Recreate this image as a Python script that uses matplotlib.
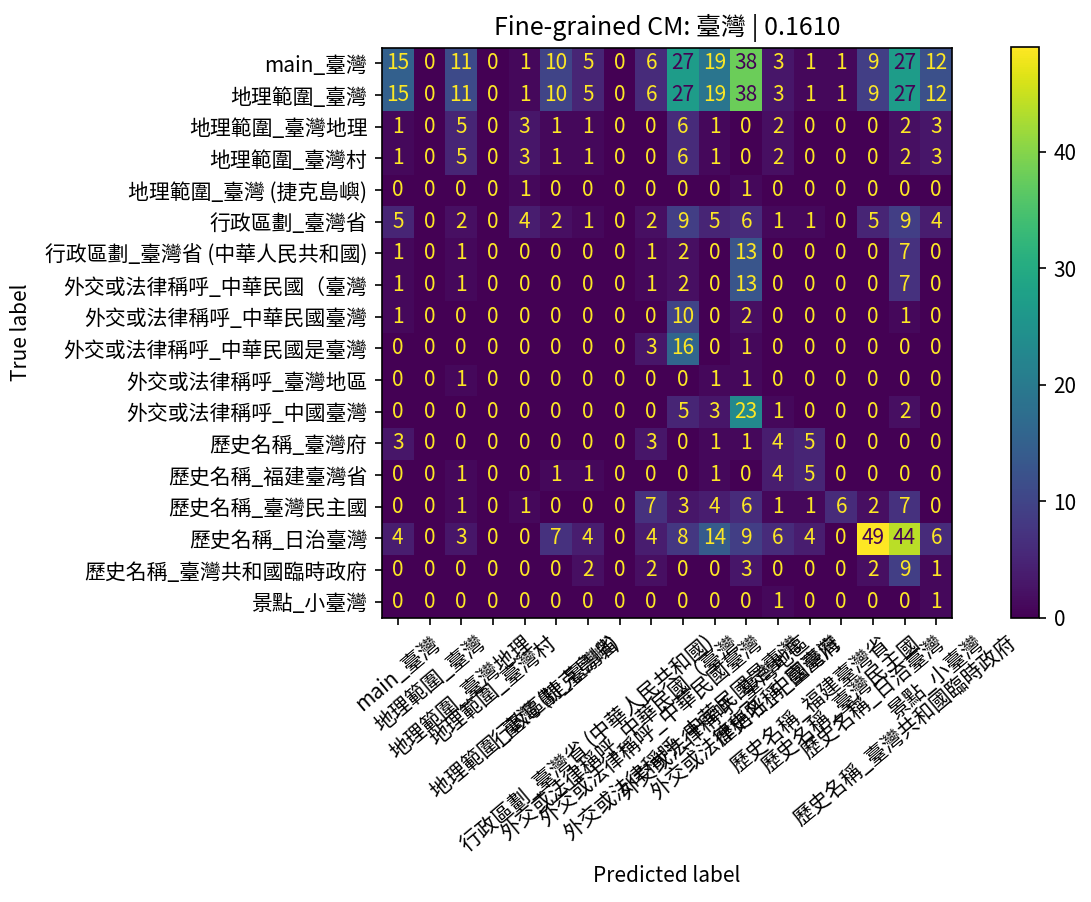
import matplotlib
matplotlib.use("Agg")
import matplotlib.pyplot as plt
import numpy as np

plt.rcParams['font.family'] = ['Noto Sans CJK TC', 'DejaVu Sans']
plt.rcParams['font.size'] = 10

labels = [
    "main_臺灣",
    "地理範圍_臺灣",
    "地理範圍_臺灣地理",
    "地理範圍_臺灣村",
    "地理範圍_臺灣 (捷克島嶼)",
    "行政區劃_臺灣省",
    "行政區劃_臺灣省 (中華人民共和國)",
    "外交或法律稱呼_中華民國（臺灣",
    "外交或法律稱呼_中華民國臺灣",
    "外交或法律稱呼_中華民國是臺灣",
    "外交或法律稱呼_臺灣地區",
    "外交或法律稱呼_中國臺灣",
    "歷史名稱_臺灣府",
    "歷史名稱_福建臺灣省",
    "歷史名稱_臺灣民主國",
    "歷史名稱_日治臺灣",
    "歷史名稱_臺灣共和國臨時政府",
    "景點_小臺灣",
]

row_main = [15, 0, 11, 0, 1, 10, 5, 0, 6, 27, 19, 38, 3, 1, 1, 9, 27, 12]
row_geo_tw = [15, 0, 11, 0, 1, 10, 5, 0, 6, 27, 19, 38, 3, 1, 1, 9, 27, 12]
row_geo_geo = [1, 0, 5, 0, 3, 1, 1, 0, 0, 6, 1, 0, 2, 0, 0, 0, 2, 3]
row_geo_village = [1, 0, 5, 0, 3, 1, 1, 0, 0, 6, 1, 0, 2, 0, 0, 0, 2, 3]
row_geo_czech = [0, 0, 0, 0, 1, 0, 0, 0, 0, 0, 0, 1, 0, 0, 0, 0, 0, 0]
row_admin_prov = [5, 0, 2, 0, 4, 2, 1, 0, 2, 9, 5, 6, 1, 1, 0, 5, 9, 4]
row_admin_prc = [1, 0, 1, 0, 0, 0, 0, 0, 1, 2, 0, 13, 0, 0, 0, 0, 7, 0]
row_dip_roc_paren = [1, 0, 1, 0, 0, 0, 0, 0, 1, 2, 0, 13, 0, 0, 0, 0, 7, 0]
row_dip_roc_tw = [1, 0, 0, 0, 0, 0, 0, 0, 0, 10, 0, 2, 0, 0, 0, 0, 1, 0]
row_dip_roc_is = [0, 0, 0, 0, 0, 0, 0, 0, 3, 16, 0, 1, 0, 0, 0, 0, 0, 0]
row_dip_area = [0, 0, 1, 0, 0, 0, 0, 0, 0, 0, 1, 1, 0, 0, 0, 0, 0, 0]
row_dip_china_tw = [0, 0, 0, 0, 0, 0, 0, 0, 0, 5, 3, 23, 1, 0, 0, 0, 2, 0]
row_hist_fu = [3, 0, 0, 0, 0, 0, 0, 0, 3, 0, 1, 1, 4, 5, 0, 0, 0, 0]
row_hist_fujian = [0, 0, 1, 0, 0, 1, 1, 0, 0, 0, 1, 0, 4, 5, 0, 0, 0, 0]
row_hist_republic = [0, 0, 1, 0, 1, 0, 0, 0, 7, 3, 4, 6, 1, 1, 6, 2, 7, 0]
row_hist_japan = [4, 0, 3, 0, 0, 7, 4, 0, 4, 8, 14, 9, 6, 4, 0, 49, 44, 6]
row_hist_provisional = [0, 0, 0, 0, 0, 0, 2, 0, 2, 0, 0, 3, 0, 0, 0, 2, 9, 1]
row_spot_little = [0, 0, 0, 0, 0, 0, 0, 0, 0, 0, 0, 0, 1, 0, 0, 0, 0, 1]

cm = np.array([
    row_main, row_geo_tw, row_geo_geo, row_geo_village, row_geo_czech,
    row_admin_prov, row_admin_prc, row_dip_roc_paren, row_dip_roc_tw,
    row_dip_roc_is, row_dip_area, row_dip_china_tw, row_hist_fu,
    row_hist_fujian, row_hist_republic, row_hist_japan,
    row_hist_provisional, row_spot_little,
])

title = "Fine-grained CM: 臺灣 | 0.1610"

fig = plt.figure(figsize=(1091 / 150, 902 / 150), dpi=150)
ax = fig.add_axes([382 / 1091, 1 - 618 / 902, 570 / 1091, 571 / 902])
cax = fig.add_axes([1011 / 1091, 1 - 618 / 902, 28 / 1091, 571 / 902])

cmap = plt.get_cmap('viridis')
im = ax.imshow(cm, interpolation='nearest', cmap=cmap)
fig.colorbar(im, cax=cax)

n = cm.shape[0]
thresh = (cm.max() + cm.min()) / 2.0
cmin, cmax = cmap(0.0), cmap(1.0)
for i in range(n):
    for j in range(n):
        color = cmax if cm[i, j] < thresh else cmin
        ax.text(j, i, format(cm[i, j], 'd'), ha='center', va='center', color=color)

ax.set_xticks(np.arange(n))
ax.set_yticks(np.arange(n))
ax.set_xticklabels(labels, rotation=40)
ax.set_yticklabels(labels)
ax.set_xlim(-0.5, n - 0.5)
ax.set_ylim(n - 0.5, -0.5)
ax.set_xlabel("Predicted label")
ax.set_ylabel("True label")
ax.xaxis.set_label_coords(0.5, -0.434)
ax.yaxis.set_label_coords(-0.614, 0.5)
ax.set_title(title)

fig.savefig("out.png", dpi=150)
